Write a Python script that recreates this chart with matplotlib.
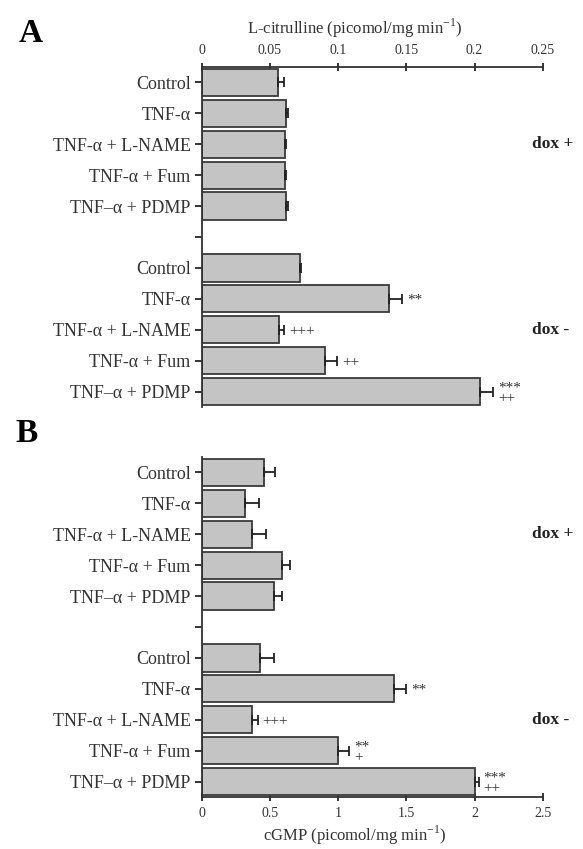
import numpy as np
import matplotlib
matplotlib.use('Agg')
import matplotlib.pyplot as plt

plt.rcParams['font.family'] = ['Liberation Serif', 'DejaVu Serif']

#### DATA ####
labels = ['Control', 'TNF-α', 'TNF-α + L-NAME', 'TNF-α + Fum', 'TNF–α + PDMP']
groups = ['dox +', 'dox -']

# panel A: L-citrulline (picomol/mg min-1)
citr_dox_pos = [0.056, 0.062, 0.061, 0.061, 0.062]
citr_dox_pos_err = [0.0045, 0.001, 0.001, 0.001, 0.001]
citr_dox_neg = [0.072, 0.1375, 0.0566, 0.0904, 0.204]
citr_dox_neg_err = [0.001, 0.0093, 0.004, 0.0086, 0.0094]
citr_marks = ['', '**', '+++', '++', '***\n++']
citr_ticks = [0, 0.05, 0.1, 0.15, 0.2, 0.25]
citr_ticklabels = ['0', '0.05', '0.1', '0.15', '0.2', '0.25']

# panel B: cGMP (picomol/mg min-1)
cgmp_dox_pos = [0.455, 0.32, 0.37, 0.59, 0.53]
cgmp_dox_pos_err = [0.08, 0.10, 0.10, 0.06, 0.06]
cgmp_dox_neg = [0.43, 1.41, 0.37, 1.0, 2.0]
cgmp_dox_neg_err = [0.10, 0.09, 0.04, 0.08, 0.03]
cgmp_marks = ['', '**', '+++', '**\n+', '***\n++']
cgmp_ticks = [0, 0.5, 1, 1.5, 2, 2.5]
cgmp_ticklabels = ['0', '0.5', '1', '1.5', '2', '2.5']

BAR = '#c4c4c4'
EDGE = '#3a3a3a'

fig = plt.figure(figsize=(5.83, 8.49), dpi=100)
W, H = 583.0, 849.0


def make_panel(rect, pos_vals, pos_err, neg_vals, neg_err, marks, xmax, ticks, ticklabels, top):
    ax = fig.add_axes(rect)
    n = len(labels)
    ypos_top = np.arange(n)
    ypos_bot = np.arange(n) + n + 1
    vals = list(pos_vals) + list(neg_vals)
    errs = list(pos_err) + list(neg_err)
    ypos = np.concatenate([ypos_top, ypos_bot])
    ax.barh(ypos, vals, height=0.88, color=BAR, edgecolor=EDGE, linewidth=1.3, zorder=2)
    ax.errorbar(vals, ypos, xerr=[np.zeros(len(vals)), errs], fmt='none',
                ecolor='#222222', elinewidth=1.3, capsize=3.5, capthick=1.3, zorder=3)
    # significance marks for the dox - group
    for y, v, e, m in zip(ypos_bot, neg_vals, neg_err, marks):
        if m:
            ax.text(v + e + xmax * 0.015, y + 0.05, m, ha='left', va='center', fontsize=11,
                    linespacing=0.75, color='#333333')
    ax.set_xlim(0, xmax)
    ax.set_ylim(2 * n + 0.5, -0.5)
    ax.set_yticks(list(ypos_top) + [n] + list(ypos_bot))
    ax.set_yticklabels(labels + [''] + labels, fontsize=13, color='#333333')
    ax.set_xticks(ticks)
    ax.set_xticklabels(ticklabels, fontsize=10, color='#333333')
    ax.tick_params(axis='y', direction='out', length=5, width=1.1, pad=3)
    ax.tick_params(axis='x', direction='inout', length=6, width=1.1, pad=4)
    ax.spines['right'].set_visible(False)
    if top:
        ax.xaxis.tick_top()
        ax.spines['bottom'].set_visible(False)
    else:
        ax.spines['top'].set_visible(False)
    for s in ['left', 'top', 'bottom']:
        ax.spines[s].set_linewidth(1.3)
        ax.spines[s].set_color('#333333')
    # group labels on the right, centred on each group
    for k, g in enumerate(groups):
        yc = 2 + k * (n + 1)
        ax.text(0.969, yc, g, transform=ax.get_yaxis_transform(),
                ha='left', va='center', fontsize=12.5, fontweight='bold', color='#222222')
    return ax


ax_a = make_panel([201.7 / W, 1 - 407 / H, 341 / W, 340 / H],
                  citr_dox_pos, citr_dox_pos_err, citr_dox_neg, citr_dox_neg_err,
                  citr_marks, 0.25, citr_ticks, citr_ticklabels, top=True)
ax_b = make_panel([201.7 / W, 1 - 797 / H, 341 / W, 340 / H],
                  cgmp_dox_pos, cgmp_dox_pos_err, cgmp_dox_neg, cgmp_dox_neg_err,
                  cgmp_marks, 2.5, cgmp_ticks, cgmp_ticklabels, top=False)

fig.text(355 / W, 1 - 28 / H, 'L-citrulline (picomol/mg min$^{\\mathregular{-1}}$)',
         ha='center', va='center', fontsize=12, color='#333333')
fig.text(355 / W, 1 - 835 / H, 'cGMP (picomol/mg min$^{\\mathregular{-1}}$)',
         ha='center', va='center', fontsize=12, color='#333333')

fig.text(31 / W, 1 - 33 / H, 'A', ha='center', va='center', fontsize=24, fontweight='bold')
fig.text(27 / W, 1 - 434 / H, 'B', ha='center', va='center', fontsize=24, fontweight='bold')

fig.savefig('out.png', dpi=100)
